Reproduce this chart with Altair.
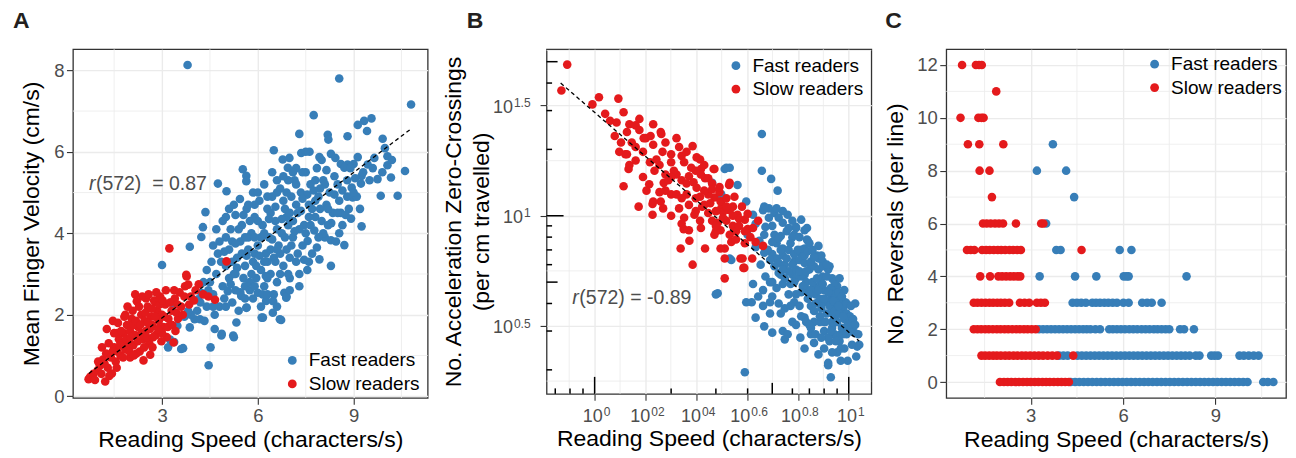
import altair as alt
import pandas as pd

FAST, SLOW = "Fast readers", "Slow readers"
BLUE, RED = "#377EB8", "#E41A1C"
GRID = "#ebebeb"
TXT = "#4d4d4d"
FONT = "Liberation Sans"

# ---------------- Panel A data ----------------
A_FAST = [
    (3.80, 8.13), (8.55, 7.80), (10.80, 7.16), (7.75, 6.90), (9.56, 6.82), (9.33, 6.76), (9.13, 6.66),
    (9.42, 6.51), (7.30, 6.44), (8.19, 6.42), (8.21, 6.30), (8.81, 6.38), (9.91, 6.32), (6.50, 6.04),
    (9.98, 6.09), (6.99, 5.85), (7.36, 5.97), (7.62, 6.00), (7.93, 5.87), (8.29, 5.95), (8.43, 5.85),
    (8.60, 5.70), (8.81, 5.69), (8.71, 5.61), (9.13, 5.87), (9.65, 5.85), (10.06, 5.89), (9.44, 5.69),
    (10.06, 5.67), (10.61, 5.53), (9.75, 5.33), (10.17, 5.37), (9.25, 5.41), (8.94, 5.12), (9.23, 5.22),
    (8.97, 4.88), (9.85, 4.92), (10.38, 4.92), (8.92, 4.36), (9.25, 4.17), (7.77, 4.07), (8.29, 3.83),
    (8.71, 3.71), (7.93, 3.36), (8.29, 3.20), (7.56, 3.81), (5.53, 5.57), (5.64, 5.41), (5.64, 5.28),
    (4.75, 5.22), (5.02, 5.03), (5.44, 4.84), (4.36, 4.52), (4.28, 4.15), (4.23, 3.91), (3.87, 3.67),
    (3.00, 3.22), (6.78, 5.81), (6.94, 5.61), (3.35, 2.29), (3.48, 1.73), (3.87, 1.69), (3.66, 1.18),
    (3.19, 1.20), (3.38, 1.33), (4.02, 1.89), (4.33, 1.85), (4.46, 0.76), (4.52, 1.20), (4.65, 1.65),
    (4.86, 1.49), (5.25, 1.45), (5.33, 1.81), (4.23, 2.54), (4.13, 2.38), (4.40, 2.20), (4.50, 2.80),
    (4.60, 2.50), (4.70, 3.00), (4.55, 3.30), (4.75, 3.50), (4.80, 2.20), (4.90, 2.70), (5.00, 3.20),
    (5.00, 3.90), (5.06, 2.58), (5.10, 3.60), (5.15, 4.10), (5.20, 2.30), (5.25, 3.00), (5.30, 4.45),
    (5.35, 3.40), (5.40, 2.10), (5.45, 3.80), (5.48, 2.46), (5.50, 4.20), (5.55, 2.90), (5.60, 3.20),
    (5.64, 2.17), (5.65, 4.60), (5.70, 3.60), (5.75, 2.60), (5.80, 4.00), (5.85, 3.30), (5.90, 4.40),
    (5.95, 2.90), (6.00, 2.54), (6.00, 3.70), (6.05, 4.80), (6.10, 3.10), (6.15, 4.20), (6.16, 1.93),
    (6.20, 2.70), (6.25, 3.50), (6.26, 2.34), (6.30, 4.60), (6.35, 3.90), (6.40, 3.00), (6.45, 4.90),
    (6.47, 2.05), (6.50, 3.40), (6.55, 4.30), (6.60, 2.80), (6.65, 3.70), (6.70, 5.10), (6.73, 1.87),
    (6.75, 4.00), (6.80, 3.20), (6.83, 2.54), (6.85, 4.60), (6.89, 2.42), (6.90, 3.60), (6.95, 4.20),
    (7.00, 2.90), (7.05, 4.90), (7.10, 3.90), (7.15, 5.30), (7.20, 3.30), (7.25, 4.50), (7.30, 2.70),
    (7.35, 5.00), (7.40, 3.70), (7.45, 4.20), (7.50, 5.50), (7.55, 3.10), (7.60, 4.70), (7.65, 5.20),
    (7.70, 3.50), (7.80, 4.40), (7.85, 5.60), (7.90, 4.90), (8.00, 4.30), (8.05, 5.30), (8.10, 3.90),
    (8.15, 4.70), (8.25, 5.00), (8.35, 4.50), (8.45, 3.80), (8.55, 4.80), (8.65, 4.20), (8.85, 4.60),
    (5.20, 3.30), (5.50, 3.50), (5.80, 3.00), (6.10, 3.90), (6.30, 3.30), (6.60, 4.10), (6.90, 4.40),
    (7.20, 4.70), (7.00, 3.40), (7.50, 4.00), (6.40, 4.50), (5.90, 3.50), (6.20, 4.00), (6.70, 3.50),
    (7.30, 4.10), (7.80, 4.80), (8.10, 5.20), (6.00, 4.30), (5.70, 3.90), (6.80, 4.80), (7.60, 4.40),
    (4.95, 2.40), (5.10, 2.90), (5.30, 2.60), (5.60, 2.70), (6.40, 3.60), (7.10, 4.30), (8.40, 5.40),
    (7.40, 5.50), (6.60, 5.00), (5.90, 4.70), (4.85, 3.30), (4.40, 3.10), (4.30, 2.80), (5.20, 3.80),
    (6.55, 3.30), (7.70, 4.60), (8.00, 5.80), (8.80, 5.30), (9.00, 5.70), (9.50, 5.30), (7.95, 5.10),
    (6.25, 2.95), (5.85, 2.40), (7.25, 3.50), (6.95, 3.00), (8.60, 4.50), (9.10, 4.90), (5.00, 2.20),
    (5.15, 2.75), (5.35, 3.15), (5.45, 2.55), (5.65, 3.45), (5.75, 4.30), (5.95, 3.20), (6.05, 3.45),
    (6.15, 2.50), (6.30, 2.90), (6.35, 4.35), (6.45, 3.85), (6.55, 4.65), (6.70, 3.00), (6.75, 4.35),
    (6.85, 3.90), (6.95, 5.30), (7.05, 3.70), (7.15, 4.05), (7.20, 5.60), (7.35, 4.55), (7.45, 3.35),
    (7.55, 4.95), (7.65, 4.20), (7.75, 5.05), (7.85, 3.65), (7.95, 4.60), (8.05, 4.00), (8.15, 5.55),
    (8.30, 4.25), (8.40, 4.95), (8.50, 5.20), (8.65, 5.05), (8.75, 4.45), (8.90, 5.60), (9.05, 5.35),
    (9.20, 4.60), (4.60, 2.20), (4.45, 2.60), (4.80, 3.80), (5.00, 4.40), (5.25, 4.70), (5.55, 4.45),
    (5.85, 5.00), (6.20, 5.20), (6.45, 5.50), (6.80, 5.40), (7.10, 5.50), (7.50, 6.00), (4.95, 3.55),
    (5.30, 3.75), (5.60, 3.90), (5.90, 3.90), (6.20, 3.30), (6.60, 3.60), (7.00, 4.50), (7.40, 4.85),
    (7.80, 5.30), (8.20, 4.60), (8.55, 4.00), (5.75, 2.80), (6.10, 2.20), (6.50, 2.50), (4.65, 2.00),
    (3.90, 2.00), (4.10, 2.10), (3.70, 1.95), (4.20, 2.30), (3.82, 2.09), (3.25, 1.39), (4.19, 1.89),
    (5.23, 1.49), (4.87, 1.53), (5.65, 2.18), (6.12, 1.93), (6.69, 1.89), (6.48, 2.33), (6.90, 2.45),
    (3.60, 1.16), (3.29, 2.30), (4.60, 3.70), (4.70, 4.10), (4.90, 4.30), (5.10, 4.60), (5.40, 4.10),
    (5.70, 4.70), (6.00, 5.00), (6.30, 4.90), (6.60, 5.30), (6.90, 5.00), (7.20, 5.20), (5.30, 3.00),
    (5.60, 2.40), (5.90, 2.70), (6.30, 2.50), (6.60, 2.20), (7.00, 2.60), (7.30, 3.00), (7.60, 3.30),
    (7.90, 3.90), (8.20, 4.20), (8.50, 4.50), (8.80, 4.90), (9.00, 5.00), (9.30, 5.50), (9.60, 5.60),
    (9.90, 5.50), (10.20, 5.80),
]
A_SLOW = [
    (0.70, 0.42), (0.75, 0.48), (0.98, 0.63), (1.22, 0.36), (1.43, 0.56), (1.05, 0.75), (1.15, 0.90),
    (1.30, 0.70), (1.25, 1.05), (1.40, 0.95), (1.46, 1.85), (1.27, 1.65), (1.50, 1.20), (1.55, 0.85),
    (1.60, 1.10), (1.65, 1.40), (1.70, 1.00), (1.75, 1.30), (1.80, 1.55), (1.85, 1.15), (1.90, 1.75),
    (1.95, 1.35), (2.00, 1.60), (2.00, 0.95), (2.05, 1.90), (2.10, 1.25), (2.15, 1.50), (2.16, 2.50),
    (2.21, 2.33), (2.25, 1.70), (2.30, 1.10), (2.35, 2.00), (2.40, 1.40), (2.42, 0.88), (2.45, 1.85),
    (2.50, 1.60), (2.55, 2.20), (2.60, 1.30), (2.63, 1.02), (2.65, 1.95), (2.70, 1.75), (2.75, 2.35),
    (2.80, 1.50), (2.85, 2.10), (2.90, 1.85), (2.94, 2.45), (3.00, 2.00), (3.05, 1.70), (3.10, 2.25),
    (3.15, 1.45), (3.23, 3.63), (3.30, 2.10), (3.36, 1.32), (3.40, 2.40), (3.50, 1.90), (3.60, 2.20),
    (3.72, 2.70), (3.77, 2.94), (3.82, 2.74), (3.90, 2.45), (4.05, 2.60), (4.29, 2.50), (4.66, 2.37),
    (5.02, 3.31), (1.85, 2.00), (2.20, 1.05), (1.60, 1.55), (2.80, 2.30), (2.50, 2.40), (3.20, 1.90),
    (2.35, 1.55), (1.95, 1.20), (2.70, 1.20), (3.00, 1.55), (3.45, 2.05), (2.55, 1.80), (2.10, 1.75),
    (0.85, 0.55), (0.90, 0.40), (1.00, 0.85), (1.10, 0.55), (1.12, 1.20), (1.20, 0.80), (1.33, 1.30),
    (1.35, 0.50), (1.45, 1.10), (1.50, 1.55), (1.58, 0.70), (1.62, 1.80), (1.68, 1.25), (1.72, 1.60),
    (1.78, 0.95), (1.82, 1.95), (1.88, 1.40), (1.92, 2.20), (1.98, 1.10), (2.02, 1.45), (2.08, 2.10),
    (2.12, 1.00), (2.18, 1.85), (2.24, 1.35), (2.28, 2.20), (2.32, 1.75), (2.38, 2.45), (2.44, 1.20),
    (2.48, 2.05), (2.52, 1.45), (2.58, 2.50), (2.62, 1.65), (2.68, 2.15), (2.72, 1.45), (2.78, 1.95),
    (2.82, 2.55), (2.88, 1.65), (2.92, 2.25), (2.98, 1.35), (3.02, 2.35), (3.08, 1.95), (3.12, 2.60),
    (3.18, 1.70), (3.25, 2.30), (3.32, 1.75), (3.38, 2.60), (3.42, 1.60), (3.48, 2.25), (3.55, 2.55),
    (3.65, 2.00), (3.70, 2.45), (3.85, 2.25), (4.00, 2.35), (4.15, 2.75), (4.45, 2.45), (3.76, 2.98),
]
A_FIT_X = [0.71, 10.81]
A_FIT_Y = [0.56, 6.57]
A_X_TICKS = [3, 6, 9]
A_Y_TICKS = [0, 2, 4, 6, 8]
A_X_MINOR = [1.5, 4.5, 7.5, 10.5]
A_Y_MINOR = [1, 3, 5, 7]
A_NOTE = ["r", "(572)\u00a0 = 0.87"]
A_NOTE_AT = [0.71, 5.22]

# ---------------- Panel B data ----------------
B_FAST = [
    (4.55, 23.5), (4.55, 16.0), (4.95, 14.7), (5.25, 13.0), (3.25, 16.3), (3.40, 16.5), (3.65, 13.8),
    (2.90, 14.1), (3.95, 11.6), (3.15, 12.2), (3.90, 1.95), (8.50, 1.85), (3.00, 4.40), (3.95, 4.05),
    (10.6, 4.0), (10.8, 2.55), (10.5, 2.95), (9.9, 2.2), (8.3, 2.1), (5.0, 2.95), (5.5, 3.0), (5.6, 2.75),
    (4.3, 3.45), (4.2, 4.9), (4.4, 4.3), (4.6, 3.9), (4.9, 3.6), (6.7, 8.6), (6.9, 7.7), (6.2, 8.9),
    (4.6, 10.6), (4.85, 10.8), (5.1, 10.3), (5.3, 9.8), (5.7, 8.5), (8.3, 5.7), (8.9, 4.5), (9.4, 3.75),
    (4.65, 3.15), (5.75, 2.9), (6.45, 2.8), (7.3, 2.65), (8.3, 2.15), (9.3, 2.2), (9.6, 2.5), (4.15, 4.05),
    (4.65, 6.8), (4.65, 8.2), (4.2, 10.1), (4.65, 11.0), (5.2, 10.8), (5.5, 9.3), (6.2, 8.8), (6.85, 7.8),
    (7.6, 6.4), (8.3, 5.8), (9.0, 4.8), (9.7, 4.05), (9.9, 3.3), (8.8, 3.45), (8.0, 4.05), (7.3, 4.8),
    (6.7, 5.4), (6.1, 6.2), (5.5, 7.1), (5.1, 8.2), (5.1, 5.9), (5.5, 4.9), (6.1, 4.05), (6.7, 3.45),
    (7.3, 3.3), (6.2, 4.4), (7.1, 3.9), (8.0, 3.3), (8.8, 2.9), (8.0, 2.5), (7.1, 2.9), (6.0, 3.3),
    (5.4, 3.6), (4.9, 4.05), (5.4, 5.4), (6.0, 5.4), (6.45, 6.8), (7.1, 5.9), (7.75, 5.0), (8.5, 4.4),
    (9.3, 3.9), (10.2, 3.1), (9.3, 2.9), (8.4, 2.7), (6.85, 4.6), (7.6, 4.05), (6.1, 8.2), (6.7, 7.1),
    (5.75, 10.1), (6.85, 8.8), (4.85, 9.8), (4.45, 7.7), (7.9, 6.2), (8.6, 5.2), (9.6, 4.6), (7.6, 2.35),
    (6.7, 2.5), (3.30, 16.5), (3.15, 12.5), (3.4, 6.4), (3.05, 4.45), (3.45, 6.3),
    (5.0, 5.0), (5.3, 5.5), (5.6, 5.2), (5.9, 4.9), (6.2, 5.7), (6.5, 5.3), (6.8, 5.0), (7.1, 4.6),
    (7.4, 4.4), (7.7, 4.2), (8.0, 4.6), (8.3, 4.1), (8.6, 3.6), (8.9, 3.9), (9.2, 4.2), (9.5, 3.8),
    (9.8, 3.6), (10.1, 3.5), (5.2, 7.5), (5.5, 6.6), (5.8, 7.0), (6.1, 6.7), (6.4, 6.3), (6.7, 6.1),
    (7.0, 5.7), (7.3, 5.9), (7.6, 5.7), (7.9, 5.3), (8.2, 5.3), (8.5, 4.7), (8.8, 4.4), (9.1, 4.5),
    (9.4, 4.3), (4.7, 5.3), (4.5, 6.0), (4.6, 4.6), (5.0, 4.3), (5.3, 4.0), (5.6, 3.8), (5.9, 3.9),
    (6.2, 3.2), (6.5, 3.5), (6.8, 3.3), (7.1, 3.1), (7.4, 2.9), (7.7, 3.3), (8.0, 3.0), (8.3, 2.8),
    (8.6, 3.1), (8.9, 3.3), (9.2, 2.7), (9.5, 2.9), (9.8, 3.1), (10.1, 3.0), (6.0, 8.0), (6.5, 7.0),
    (5.0, 6.7), (4.3, 7.2), (4.0, 8.2), (4.3, 9.2), (5.0, 9.0), (5.4, 8.1), (7.0, 7.5), (7.5, 6.6),
    (7.8, 6.6), (8.4, 5.9), (7.6, 7.3),
    (4.8, 7.0), (5.0, 7.6), (5.2, 6.4), (5.4, 7.0), (5.6, 6.0), (5.8, 5.6), (6.0, 6.0), (6.2, 5.2),
    (6.4, 5.6), (6.6, 4.8), (6.8, 5.6), (7.0, 4.4), (7.2, 5.0), (7.4, 4.0), (7.6, 4.6), (7.8, 3.8),
    (8.0, 4.2), (8.2, 3.6), (8.4, 3.9), (8.6, 3.3), (8.8, 3.7), (9.0, 3.3), (9.2, 3.6), (9.4, 3.1),
    (9.6, 3.4), (9.8, 2.9), (10.0, 3.2), (10.3, 2.6), (5.3, 6.1), (5.7, 6.4), (6.1, 5.0), (6.5, 4.5),
    (6.9, 4.2), (7.3, 3.7), (7.7, 3.5), (8.1, 3.3), (8.5, 3.0), (8.9, 2.7), (9.3, 2.5), (5.9, 7.5),
    (6.3, 7.0), (6.7, 6.6), (7.1, 6.2), (7.5, 5.2), (7.9, 4.9), (8.3, 4.5), (8.7, 4.1), (9.1, 3.9),
    (9.5, 3.5), (5.5, 5.7), (6.9, 6.9), (7.3, 6.5), (4.9, 6.3), (4.7, 8.9), (5.3, 7.9), (5.8, 8.8),
    (6.4, 8.0), (6.0, 9.5), (5.5, 10.5), (6.5, 9.6), (7.2, 7.0), (7.9, 5.9), (8.2, 6.0), (8.8, 5.0),
    (9.2, 5.2), (9.8, 4.0), (10.2, 3.9), (10.4, 3.4), (9.0, 2.4), (8.6, 2.4), (7.8, 2.8), (7.0, 3.2),
    (6.4, 3.9), (5.8, 4.4), (5.2, 4.7), (4.9, 5.0), (10.6, 3.2), (10.9, 2.9), (11.0, 2.6), (10.7, 2.3),
]
B_SLOW = [
    (0.78, 48.5), (0.74, 37.0), (1.04, 34.5), (0.98, 32.0), (1.24, 34.0), (1.15, 27.0), (1.22, 26.5),
    (1.37, 26.0), (1.45, 25.7), (1.27, 21.5), (1.40, 21.5), (1.59, 22.5), (1.66, 23.0), (1.82, 24.0),
    (1.32, 19.0), (1.37, 17.0), (1.36, 16.3), (1.30, 13.6), (1.49, 11.0), (1.64, 13.9), (1.69, 11.3),
    (2.15, 20.5), (2.43, 20.7), (2.00, 19.0), (2.20, 18.7), (2.52, 18.4), (2.62, 16.3), (2.96, 16.3),
    (2.35, 15.1), (2.10, 15.4), (1.87, 14.1), (1.69, 10.1), (1.82, 11.6), (2.00, 12.5), (2.15, 10.8),
    (2.30, 12.5), (2.52, 13.4), (2.72, 14.8), (2.25, 9.8), (2.47, 10.1), (2.70, 11.2), (2.96, 12.1),
    (3.15, 10.8), (3.40, 14.1), (3.40, 10.6), (3.65, 10.1), (3.90, 9.6), (2.62, 8.8), (2.35, 8.6),
    (2.18, 7.1), (2.43, 6.0), (2.72, 7.1), (2.96, 8.2), (3.25, 7.1), (3.25, 6.4), (3.25, 5.2),
    (3.82, 6.4), (3.88, 5.8), (4.17, 6.4), (4.60, 7.3), (3.40, 8.2), (3.05, 9.3), (3.15, 11.6),
    (2.62, 15.4), (1.56, 22.5), (1.34, 24.0), (1.83, 23.5), (1.34, 19.0), (1.60, 13.0), (1.70, 11.6),
    (1.86, 10.8), (1.72, 16.0), (1.90, 15.4), (2.20, 14.5), (2.60, 18.0), (2.36, 7.7), (2.24, 8.7),
    (2.94, 16.3), (2.80, 14.8), (3.13, 11.6), (3.38, 13.8), (3.20, 10.4), (3.13, 8.6), (3.13, 7.1),
    (3.75, 6.4), (3.85, 5.8), (1.80, 17.0), (1.90, 13.0), (2.05, 16.0), (2.10, 12.5), (2.30, 14.0),
    (2.50, 12.0), (2.65, 11.0), (2.80, 12.5), (3.00, 10.5), (3.30, 9.5), (3.50, 9.0), (3.60, 8.5),
    (2.90, 9.5), (2.50, 10.5), (2.20, 12.0), (1.95, 14.5), (1.75, 18.0), (1.55, 19.5), (2.40, 16.5),
    (2.70, 13.0), (3.10, 12.8), (3.50, 11.0), (3.70, 9.7), (4.00, 8.7), (3.90, 7.5), (3.45, 7.6),
    (3.00, 8.5), (2.60, 9.5), (2.35, 11.2), (2.00, 15.0), (1.65, 17.5), (1.45, 20.5), (1.85, 19.5),
    (2.25, 17.5), (3.30, 12.0),
    (1.50, 24.5), (1.70, 21.0), (1.90, 21.5), (2.10, 22.5), (2.30, 19.5), (2.50, 16.0), (2.70, 17.0),
    (2.90, 14.0), (3.10, 13.5), (3.30, 11.0), (3.50, 10.0), (3.70, 9.0), (3.90, 8.5), (4.10, 8.0),
    (4.30, 7.6), (2.00, 10.0), (2.20, 9.2), (2.60, 12.2), (2.80, 10.3), (3.00, 9.0), (3.20, 9.8),
    (3.60, 7.8), (4.20, 8.8), (4.40, 9.5), (1.80, 12.8), (1.55, 15.0), (1.45, 17.8), (1.25, 19.5),
    (1.20, 23.0), (1.10, 29.0), (1.30, 29.5), (1.50, 27.5), (1.70, 26.0), (2.00, 17.5), (2.45, 14.2),
    (2.85, 11.4), (3.55, 12.2), (4.00, 10.2), (3.80, 11.0), (2.90, 13.2),
]
B_FIT_X = [0.735, 10.99]
B_FIT_Y = [40.0, 2.70]
B_X_TICKS = [1, 1.585, 2.512, 3.981, 6.310, 10]
B_X_EXP = ["0", "02", "04", "0.6", "0.8", "1"]
B_Y_TICKS = [3.162, 10, 31.62]
B_Y_EXP = ["0.5", "1", "1.5"]
B_X_MINOR = [0.794, 1.259, 1.995, 3.162, 5.012, 7.943]
B_Y_MINOR = [1.778, 5.623, 17.78, 56.23]
B_X_LOGTICKS = [0.7, 0.8, 0.9, 1, 2, 3, 4, 5, 6, 7, 8, 9, 10]
B_Y_LOGTICKS = [2, 3, 4, 5, 6, 7, 8, 9, 10, 20, 30, 40, 50]
B_NOTE = ["r", "(572) = -0.89"]
B_NOTE_AT = [0.817, 4.25]

# ---------------- Panel C data ----------------
C_SLOW = [
    (0.77, 12), (1.22, 12), (1.32, 12), (1.41, 12), (1.88, 11),
    (0.72, 10), (1.30, 10), (1.40, 10), (1.47, 10), (0.96, 9), (1.33, 9), (2.11, 9),
    (1.34, 8), (1.66, 8), (1.74, 7),
    (1.45, 6), (1.57, 6), (1.70, 6), (1.84, 6), (1.97, 6), (2.10, 6), (2.52, 6), (3.34, 6), (3.41, 6),
    (0.93, 5), (1.05, 5), (1.17, 5), (1.42, 5), (1.55, 5), (1.67, 5), (1.80, 5), (1.93, 5), (2.04, 5),
    (2.17, 5), (2.31, 5), (2.43, 5), (2.56, 5), (2.68, 5), (4.65, 5),
    (1.36, 4), (1.68, 4), (1.95, 4), (2.07, 4), (2.20, 4), (2.33, 4), (2.45, 4), (2.57, 4), (2.66, 4),
    (1.15, 3), (1.27, 3), (1.40, 3), (1.53, 3), (1.66, 3), (1.78, 3), (1.91, 3), (2.03, 3), (2.16, 3),
    (2.30, 3), (2.65, 3), (2.80, 3), (2.95, 3), (3.20, 3), (3.33, 3), (3.46, 3),
    (1.15, 2), (1.27, 2), (1.39, 2), (1.52, 2), (1.64, 2), (1.77, 2), (1.90, 2), (2.02, 2), (2.15, 2),
    (2.27, 2), (2.40, 2), (2.53, 2), (2.65, 2), (2.78, 2), (2.90, 2), (3.03, 2), (3.16, 2),
    (1.40, 1), (1.52, 1), (1.65, 1), (1.78, 1), (1.90, 1), (2.03, 1), (2.17, 1), (2.30, 1), (2.44, 1),
    (2.57, 1), (2.71, 1), (2.84, 1), (2.98, 1), (3.12, 1), (3.26, 1), (3.40, 1), (3.55, 1), (3.70, 1),
    (3.85, 1), (4.38, 1),
    (2.00, 0), (2.13, 0), (2.25, 0), (2.37, 0), (2.50, 0), (2.62, 0), (2.75, 0), (2.88, 0), (3.00, 0),
    (3.13, 0), (3.25, 0), (3.38, 0), (3.50, 0), (3.62, 0), (3.75, 0), (3.88, 0), (4.00, 0), (4.12, 0),
    (4.24, 0),
]
C_FAST = [
    (3.72, 9), (3.20, 8), (4.15, 8), (4.41, 7), (3.50, 6), (3.83, 5), (3.97, 5), (5.89, 5), (6.27, 5),
    (3.29, 4), (4.44, 4), (5.13, 4), (6.02, 4), (6.11, 4), (6.18, 4), (8.06, 4),
    (4.36, 3), (4.50, 3), (4.64, 3), (4.79, 3), (5.00, 3), (5.12, 3), (5.25, 3), (5.39, 3), (5.52, 3),
    (5.66, 3), (5.80, 3), (6.01, 3), (6.18, 3), (6.62, 3), (6.78, 3), (6.93, 3), (7.25, 3),
    (3.27, 2), (3.40, 2), (3.53, 2), (3.66, 2), (3.79, 2), (3.92, 2), (4.05, 2), (4.18, 2), (4.31, 2),
    (4.44, 2), (4.57, 2), (4.70, 2), (4.82, 2), (4.94, 2), (5.10, 2), (5.25, 2), (5.55, 2), (5.67, 2),
    (5.80, 2), (5.93, 2), (6.06, 2), (6.20, 2), (6.33, 2), (6.46, 2), (6.60, 2), (6.73, 2), (6.86, 2),
    (7.00, 2), (7.12, 2), (7.25, 2), (7.38, 2), (7.50, 2), (7.85, 2), (7.98, 2), (8.30, 2),
    (3.92, 1), (4.06, 1), (4.20, 1), (4.52, 1), (4.66, 1), (4.80, 1), (4.94, 1), (5.08, 1), (5.22, 1),
    (5.36, 1), (5.50, 1), (5.64, 1), (5.78, 1), (5.92, 1), (6.06, 1), (6.20, 1), (6.34, 1), (6.48, 1),
    (6.62, 1), (6.76, 1), (6.90, 1), (7.04, 1), (7.18, 1), (7.32, 1), (7.46, 1), (7.60, 1), (7.74, 1),
    (7.88, 1), (8.02, 1), (8.16, 1), (8.36, 1), (8.48, 1), (8.86, 1), (8.97, 1), (9.08, 1), (9.78, 1),
    (9.92, 1), (10.08, 1), (10.24, 1), (10.40, 1),
    (4.30, 0), (4.44, 0), (4.58, 0), (4.72, 0), (4.86, 0), (5.00, 0), (5.14, 0), (5.28, 0), (5.42, 0),
    (5.56, 0), (5.70, 0), (5.84, 0), (5.98, 0), (6.12, 0), (6.26, 0), (6.40, 0), (6.54, 0), (6.68, 0),
    (6.82, 0), (6.96, 0), (7.10, 0), (7.24, 0), (7.38, 0), (7.52, 0), (7.66, 0), (7.80, 0), (7.94, 0),
    (8.08, 0), (8.22, 0), (8.36, 0), (8.50, 0), (8.64, 0), (8.78, 0), (8.92, 0), (9.06, 0), (9.20, 0),
    (9.34, 0), (9.48, 0), (9.62, 0), (9.76, 0), (9.90, 0), (10.04, 0), (10.55, 0), (10.70, 0), (10.88, 0),
]
C_X_TICKS = [3, 6, 9]
C_Y_TICKS = [0, 2, 4, 6, 8, 10, 12]
C_X_MINOR = [1.5, 4.5, 7.5, 10.5]
C_Y_MINOR = [1, 3, 5, 7, 9, 11]

# ---------------- helpers ----------------
W_A, H_A = 355, 349
W_B, H_B = 325, 345
W_C, H_C = 340, 349
GAP = 10
SPACER_AB = 119 - 2 * GAP
SPACER_BC = 75 - 2 * GAP
X_TITLE = "Reading Speed (characters/s)"
COLOR = alt.Scale(domain=[FAST, SLOW], range=[BLUE, RED])
PT_SIZE = 74


def pts_df(fast, slow):
    rows = [(x, y, FAST) for x, y in fast] + [(x, y, SLOW) for x, y in slow]
    df = pd.DataFrame(rows, columns=["x", "y", "group"])
    df["order"] = range(len(df))
    return df


def make_legend(lx, ly):
    return alt.Legend(title=None, orient="none", legendX=lx, legendY=ly, labelFontSize=19,
                      labelColor="black", labelFont=FONT, symbolType="circle",
                      symbolSize=78, symbolStrokeWidth=0, symbolOpacity=1,
                      labelOffset=7, rowPadding=3.5, padding=0)


def letter(t, dx):
    return alt.TitleParams(t, anchor="start", frame="group", dx=dx, fontSize=23,
                           fontWeight="bold", color="#231f20", font=FONT, offset=16)


def grid_layers(xf, yf, xs_minor, ys_minor):
    v = alt.Chart(pd.DataFrame({"x": xs_minor})).mark_rule(color=GRID, strokeWidth=0.8).encode(x=xf())
    h = alt.Chart(pd.DataFrame({"y": ys_minor})).mark_rule(color=GRID, strokeWidth=0.8).encode(y=yf())
    return [v, h]


def points(df, xf, yf, legend):
    return alt.Chart(df).mark_circle(size=PT_SIZE, opacity=1).encode(
        x=xf(), y=yf(),
        color=alt.Color("group:N", scale=COLOR, legend=legend),
        order=alt.Order("order:Q"))


def fit_line(xv, yv, xf, yf):
    return alt.Chart(pd.DataFrame({"x": xv, "y": yv})).mark_line(
        color="black", strokeDash=[4, 3], strokeWidth=1.3).encode(x=xf(), y=yf())


def note(parts, at, xf, yf):
    d = pd.DataFrame({"x": [at[0]], "y": [at[1]]})
    r = alt.Chart(d).mark_text(text=parts[0], align="left", baseline="middle", fontStyle="italic",
                               fontSize=19.5, color=TXT, font=FONT).encode(x=xf(), y=yf())
    rest = alt.Chart(d).mark_text(text=parts[1], align="left", baseline="middle", dx=7,
                                  fontSize=19.5, color=TXT, font=FONT).encode(x=xf(), y=yf())
    return [r, rest]


def spacer(w, h):
    return alt.Chart(pd.DataFrame({"x": [0]})).mark_point(opacity=0).properties(
        width=w, height=h, view=alt.ViewBackground(stroke="transparent"))


# ---------------- Panel A ----------------
A_XS = alt.Scale(domain=[0.21, 11.32], nice=False, zero=False)
A_YS = alt.Scale(domain=[-0.04, 8.52], nice=False, zero=False)
A_XAX = alt.Axis(title=X_TITLE, values=A_X_TICKS, titlePadding=3, labelFlush=False)
A_YAX = alt.Axis(title="Mean Finger Velocity (cm/s)", values=A_Y_TICKS, titlePadding=10, labelFlush=False)
xA = lambda: alt.X("x:Q", scale=A_XS, axis=A_XAX)
yA = lambda: alt.Y("y:Q", scale=A_YS, axis=A_YAX)

panel_a = alt.layer(
    *grid_layers(xA, yA, A_X_MINOR, A_Y_MINOR),
    points(pts_df(A_FAST, A_SLOW), xA, yA, make_legend(210, 302)),
    fit_line(A_FIT_X, A_FIT_Y, xA, yA),
    *note(A_NOTE, A_NOTE_AT, xA, yA),
).properties(width=W_A, height=H_A, title=letter("A", -60))

# ---------------- Panel B ----------------
B_XS = alt.Scale(type="log", domain=[0.647, 12.27], nice=False)
B_YS = alt.Scale(type="log", domain=[1.556, 57.0], nice=False)
B_XAX = alt.Axis(title=X_TITLE, values=B_X_TICKS, labels=False, titlePadding=27)
B_YAX = alt.Axis(title=["No. Acceleration Zero-Crossings", "(per cm travelled)"], values=B_Y_TICKS,
                 labels=False, titlePadding=46, titleLineHeight=28)
xB = lambda: alt.X("x:Q", scale=B_XS, axis=B_XAX)
yB = lambda: alt.Y("y:Q", scale=B_YS, axis=B_YAX)


def tick_len(v):
    if v in (1, 10):
        return 17
    if v in (5, 50):
        return 11
    return 5.5


b_layers = grid_layers(xB, yB, B_X_MINOR, B_Y_MINOR)
b_layers.append(points(pts_df(B_FAST, B_SLOW), xB, yB, make_legend(180, 7)))
b_layers.append(fit_line(B_FIT_X, B_FIT_Y, xB, yB))
b_layers += note(B_NOTE, B_NOTE_AT, xB, yB)

for L in (5.5, 11, 17):
    xs_l = [v for v in B_X_LOGTICKS if tick_len(v) == L]
    ys_l = [v for v in B_Y_LOGTICKS if tick_len(v) == L]
    if xs_l:
        b_layers.append(alt.Chart(pd.DataFrame({"x": xs_l})).mark_rule(color="black", strokeWidth=1.5)
                        .encode(x=xB(), y=alt.value(H_B), y2=alt.value(H_B - L)))
    if ys_l:
        b_layers.append(alt.Chart(pd.DataFrame({"y": ys_l})).mark_rule(color="black", strokeWidth=1.5)
                        .encode(y=yB(), x=alt.value(0), x2=alt.value(L)))


def exp_width(e):
    return sum(3.3 if ch == "." else 6.7 for ch in e)


BASE_W = 20.0
for v, e in zip(B_X_TICKS, B_X_EXP):
    ew = exp_width(e)
    base_dx = BASE_W - (BASE_W + 1 + ew) / 2 + 2
    d = pd.DataFrame({"x": [v]})
    b_layers.append(alt.Chart(d).mark_text(text="10", align="right", baseline="alphabetic", dx=base_dx,
                                           fontSize=18, color=TXT, font=FONT)
                    .encode(x=xB(), y=alt.value(H_B + 28.5)))
    b_layers.append(alt.Chart(d).mark_text(text=e, align="left", baseline="alphabetic", dx=base_dx + 1,
                                           fontSize=12, color=TXT, font=FONT)
                    .encode(x=xB(), y=alt.value(H_B + 22.5)))

for v, e in zip(B_Y_TICKS, B_Y_EXP):
    ew = exp_width(e)
    d = pd.DataFrame({"y": [v]})
    b_layers.append(alt.Chart(d).mark_text(text=e, align="right", baseline="alphabetic", dy=1.7,
                                           fontSize=12, color=TXT, font=FONT)
                    .encode(y=yB(), x=alt.value(-16)))
    b_layers.append(alt.Chart(d).mark_text(text="10", align="right", baseline="alphabetic", dy=7.4,
                                           dx=-(ew + 1), fontSize=18, color=TXT, font=FONT)
                    .encode(y=yB(), x=alt.value(-16)))

panel_b = alt.layer(*b_layers).properties(width=W_B, height=H_B, title=letter("B", -80))

# ---------------- Panel C ----------------
C_XS = alt.Scale(domain=[0.257, 11.29], nice=False, zero=False)
C_YS = alt.Scale(domain=[-0.6, 12.6], nice=False, zero=False)
C_XAX = alt.Axis(title=X_TITLE, values=C_X_TICKS, titlePadding=3, labelFlush=False)
C_YAX = alt.Axis(title="No. Reversals (per line)", values=C_Y_TICKS, titlePadding=9, labelFlush=False)
xC = lambda: alt.X("x:Q", scale=C_XS, axis=C_XAX)
yC = lambda: alt.Y("y:Q", scale=C_YS, axis=C_YAX)

panel_c = alt.layer(
    *grid_layers(xC, yC, C_X_MINOR, C_Y_MINOR),
    points(pts_df(C_FAST, C_SLOW), xC, yC, make_legend(199, 5.5)),
).properties(width=W_C, height=H_C, title=letter("C", -61))

# ---------------- assemble ----------------
chart = alt.hconcat(
    panel_a, spacer(SPACER_AB, H_A), panel_b, spacer(SPACER_BC, H_A), panel_c,
    spacing=GAP, bounds="flush",
).resolve_scale(color="independent")

chart = chart.properties(padding={"left": 4, "top": 0, "right": 0, "bottom": 0}).configure(
    font=FONT
).configure_view(
    stroke="#333333", strokeWidth=1.3
).configure_axis(
    grid=True, gridColor=GRID, gridWidth=1.4, domain=False, tickColor="#333333", tickSize=6.5,
    tickWidth=1.1, labelColor=TXT, labelFontSize=18.5, labelFont=FONT, labelPadding=2.5,
    titleFont=FONT, titleFontSize=23, titleFontWeight="normal", titleColor="black"
)

chart.save("out.html", embed_options={"renderer": "svg", "actions": False})
